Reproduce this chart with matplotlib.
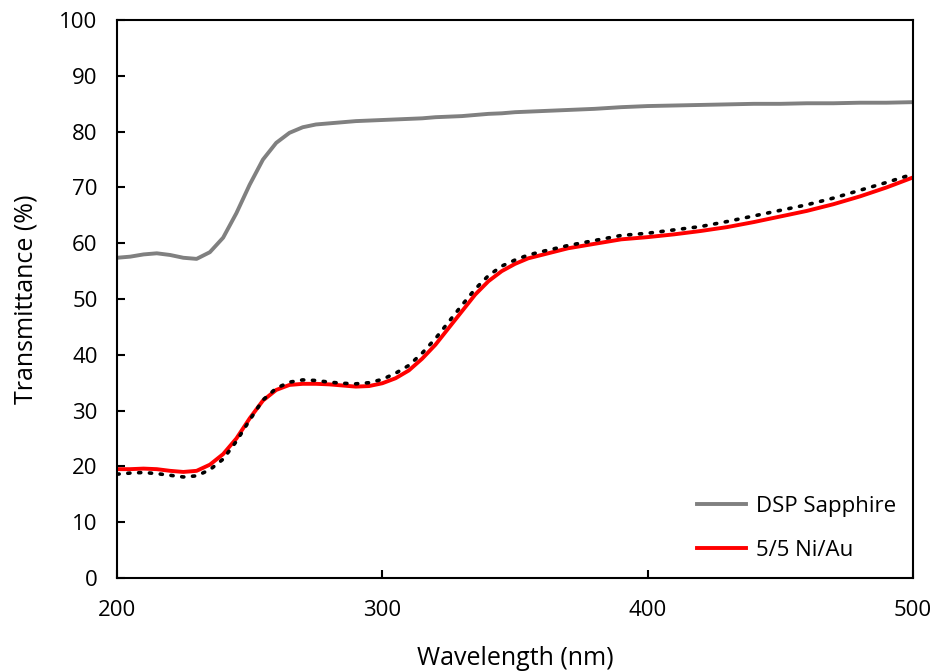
import matplotlib
matplotlib.use("Agg")
import matplotlib.pyplot as plt

plt.rcParams['font.family'] = ['Open Sans', 'DejaVu Sans']

# wavelength grid (nm)
wl = [200, 205, 210, 215, 220, 225, 230, 235, 240, 245, 250, 255, 260, 265, 270, 275,
      280, 285, 290, 295, 300, 305, 310, 315, 320, 325, 330, 335, 340, 345, 350, 355,
      360, 370, 380, 390, 400, 410, 420, 430, 440, 450, 460, 470, 480, 490, 500]

# bare double side polished sapphire
sapphire = [57.4, 57.6, 58.0, 58.2, 57.9, 57.4, 57.2, 58.4, 61.0, 65.4, 70.5, 75.0, 78.0, 79.8, 80.8, 81.3,
            81.5, 81.7, 81.9, 82.0, 82.1, 82.2, 82.3, 82.4, 82.6, 82.7, 82.8, 83.0, 83.2, 83.3, 83.5, 83.6,
            83.7, 83.9, 84.1, 84.4, 84.6, 84.7, 84.8, 84.9, 85.0, 85.0, 85.1, 85.1, 85.2, 85.2, 85.3]

# 5/5 Ni/Au film
niau = [19.5, 19.5, 19.6, 19.5, 19.2, 19.0, 19.2, 20.3, 22.2, 25.0, 28.6, 31.8, 33.7, 34.6, 34.8, 34.8,
        34.7, 34.5, 34.3, 34.4, 34.9, 35.8, 37.2, 39.3, 41.8, 44.8, 47.8, 50.8, 53.2, 55.0, 56.3, 57.3,
        57.9, 59.1, 59.9, 60.7, 61.1, 61.6, 62.2, 62.9, 63.8, 64.8, 65.8, 67.0, 68.4, 70.0, 71.8]

# 5/5 Ni/Au film, second trace (dotted, not in legend)
niau_dot = [18.6, 18.8, 18.9, 18.7, 18.4, 18.1, 18.3, 19.4, 21.3, 24.5, 28.3, 31.9, 34.0, 35.1, 35.5, 35.4,
            35.1, 34.9, 34.8, 35.0, 35.6, 36.7, 38.1, 40.3, 42.9, 45.9, 48.9, 51.8, 54.2, 55.9, 57.0, 57.9,
            58.5, 59.6, 60.5, 61.4, 61.8, 62.4, 63.0, 63.9, 64.9, 65.9, 66.9, 68.1, 69.5, 70.9, 72.4]

fig = plt.figure(figsize=(9.36, 6.72), dpi=100)
ax = fig.add_axes([0.125, 0.14, 0.8504, 0.830])

ax.plot(wl, sapphire, color='#808080', lw=2.8, label='DSP Sapphire', zorder=2)
ax.plot(wl, niau, color='#ff0000', lw=2.8, label='5/5 Ni/Au', zorder=2)
ax.plot(wl, niau_dot, color='black', lw=2.6, linestyle=(0, (0.6, 2.4)),
        dash_capstyle='round', zorder=3)

ax.set_xlim(200, 500)
ax.set_ylim(0, 100)
ax.set_xticks([200, 300, 400, 500])
ax.set_yticks(range(0, 101, 10))
ax.tick_params(direction='in', length=6, width=1.5, labelsize=16)
ax.tick_params(axis='y', pad=14)
ax.tick_params(axis='x', pad=16)
for s in ax.spines.values():
    s.set_linewidth(1.5)

ax.set_xlabel('Wavelength (nm)', fontsize=18, labelpad=18)
ax.set_ylabel('Transmittance (%)', fontsize=18, labelpad=15)

ax.legend(loc='lower right', frameon=False, fontsize=16, handlelength=2.2,
          labelspacing=1.05, handletextpad=0.45, borderaxespad=0.35)

fig.savefig('out.png', dpi=100)
